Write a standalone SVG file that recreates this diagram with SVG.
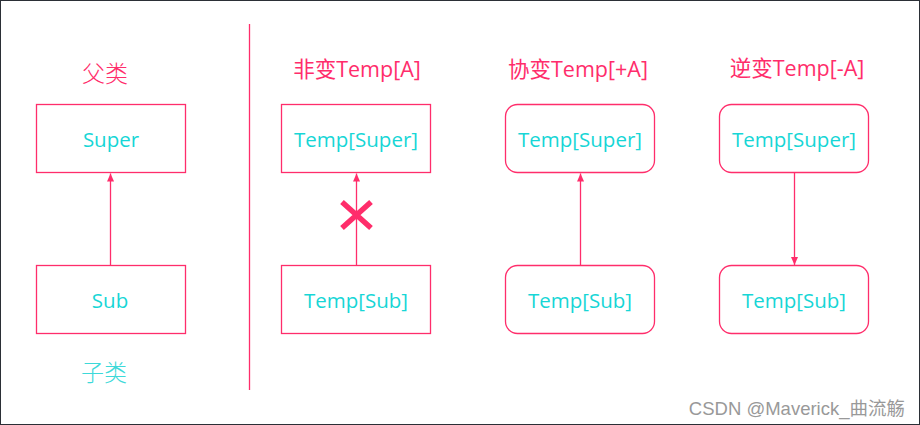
<svg xmlns="http://www.w3.org/2000/svg" width="920" height="425" viewBox="0 0 920 425">
<style>
.box{fill:#fff;stroke:#ff2d6b;stroke-width:1.3}
.lbl{font-family:"Open Sans","Noto Sans CJK SC",sans-serif;font-size:20.5px;fill:#17d6d6;text-anchor:middle;dominant-baseline:central}
.ttl{font-family:"Open Sans","Noto Sans CJK SC",sans-serif;font-size:21.5px;fill:#ff2d6b;text-anchor:middle;dominant-baseline:central}
.sub{font-family:"Noto Sans CJK SC",sans-serif;font-weight:300;font-size:23px;text-anchor:middle;dominant-baseline:central}
.conn{stroke:#ff2d6b;stroke-width:1.3;fill:none}
</style>
<defs>
<marker id="ah" markerWidth="10" markerHeight="10" refX="8" refY="5" orient="auto" markerUnits="userSpaceOnUse">
<path d="M0,1.5 L8,5 L0,8.5 Z" fill="#ff2d6b"/>
</marker>
</defs>
<rect x="0.5" y="0.5" width="919" height="424" fill="#fff" stroke="#2b2f36" stroke-width="1"/>
<line x1="249.5" y1="24" x2="249.5" y2="390" stroke="#ff2d6b" stroke-width="1.3"/>
<text class="sub" x="105" y="72" fill="#ff2d6b">父类</text>
<text class="sub" x="104" y="371" fill="#3dd9d9">子类</text>
<text class="ttl" x="357" y="68">非变Temp[A]</text>
<text class="ttl" x="578" y="68">协变Temp[+A]</text>
<text class="ttl" x="797" y="67">逆变Temp[-A]</text>
<g id="super"><rect class="box" x="36.5" y="104.5" width="149" height="68"/><text class="lbl" x="111" y="138.5">Super</text></g>
<g id="sub"><rect class="box" x="36.5" y="265.5" width="149" height="68"/><text class="lbl" x="110" y="299.5">Sub</text></g>
<g id="inv-super"><rect class="box" x="281.5" y="104.5" width="149" height="68"/><text class="lbl" x="356" y="138.5">Temp[Super]</text></g>
<g id="inv-sub"><rect class="box" x="281.5" y="265.5" width="149" height="68"/><text class="lbl" x="356" y="299.5">Temp[Sub]</text></g>
<g id="co-super"><rect class="box" x="505.5" y="104.5" width="149" height="68" rx="12"/><text class="lbl" x="580" y="138.5">Temp[Super]</text></g>
<g id="co-sub"><rect class="box" x="505.5" y="265.5" width="149" height="68" rx="12"/><text class="lbl" x="580" y="299.5">Temp[Sub]</text></g>
<g id="contra-super"><rect class="box" x="719.5" y="104.5" width="149" height="68" rx="12"/><text class="lbl" x="794" y="138.5">Temp[Super]</text></g>
<g id="contra-sub"><rect class="box" x="719.5" y="265.5" width="149" height="68" rx="12"/><text class="lbl" x="794" y="299.5">Temp[Sub]</text></g>
<g id="connectors">
<line class="conn" x1="110.5" y1="265" x2="110.5" y2="173.5" marker-end="url(#ah)"/>
<line class="conn" x1="356.5" y1="265" x2="356.5" y2="173.5" marker-end="url(#ah)"/>
<line class="conn" x1="580.5" y1="265" x2="580.5" y2="173.5" marker-end="url(#ah)"/>
<line class="conn" x1="794.5" y1="173" x2="794.5" y2="265" marker-end="url(#ah)"/>
<path d="M342,202 L371,228 M371,202 L342,228" stroke="#ff2d6b" stroke-width="5.5" fill="none"/>
</g>
<text x="905" y="408" font-family="'Liberation Sans','Noto Sans CJK SC',sans-serif" font-size="18.5" fill="#999" text-anchor="end" dominant-baseline="central">CSDN @Maverick_曲流觞</text>
</svg>
